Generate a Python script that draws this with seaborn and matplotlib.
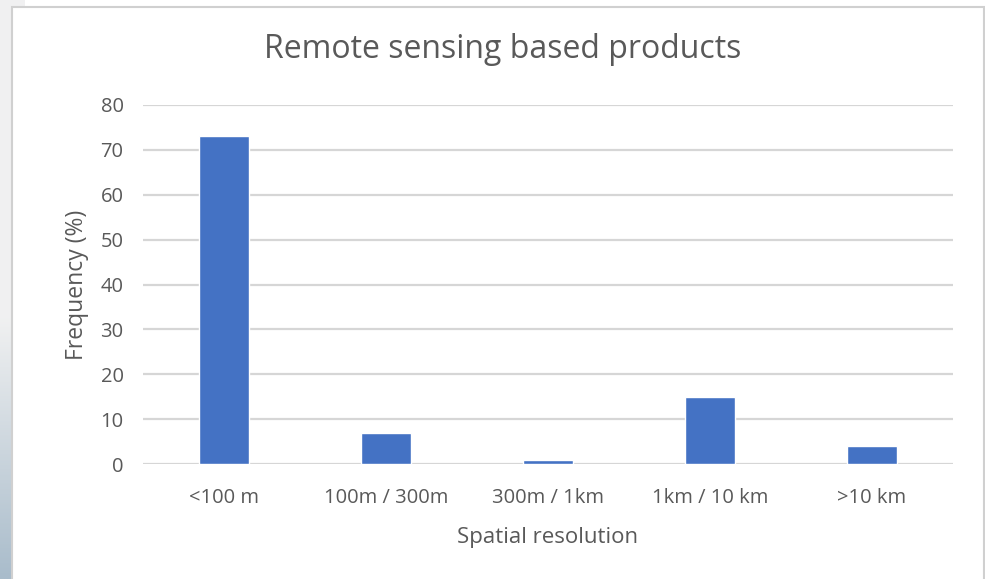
import numpy as np
import pandas as pd
import matplotlib
matplotlib.use("Agg")
import matplotlib.pyplot as plt
import seaborn as sns
from matplotlib.patches import Rectangle

# Data
categories = ["<100 m", "100m / 300m", "300m / 1km", "1km / 10 km", ">10 km"]
frequency = [73.0, 6.8, 0.8, 15.0, 3.9]

df = pd.DataFrame({"resolution": categories, "freq": frequency})

sns.set_theme(style="white")
plt.rcParams["font.family"] = ["Open Sans", "DejaVu Sans"]

text_grey = "#595959"
bar_blue = "#4472c4"

fig = plt.figure(figsize=(9.85, 5.79), dpi=100)

# faint bluish background strip on the left edge (slide behind the chart)
bg = fig.add_axes([0, 0, 0.025, 1], zorder=-2)
grad = np.clip((np.linspace(0, 1, 300) - 0.55) / 0.45, 0, 1).reshape(-1, 1)
bg.imshow(grad, aspect="auto", cmap=sns.light_palette("#a9bccb", as_cmap=True),
          extent=[0, 1, 0, 1], origin="upper", vmin=0, vmax=1)
bg.axis("off")

# chart panel border
panel = Rectangle((12 / 985, -0.01), 972 / 985, 1 - 7 / 579 + 0.01,
                  transform=fig.transFigure, facecolor="white",
                  edgecolor="#d0d0d0", linewidth=1.5, zorder=-1)
fig.patches.append(panel)

ax = fig.add_axes([143 / 985, 1 - 464 / 579, 810 / 985, 359 / 579])
ax.set_facecolor("none")
sns.barplot(data=df, x="resolution", y="freq", color=bar_blue, width=0.31,
            saturation=1, ax=ax, zorder=3)

ax.set_ylim(0, 80)
ax.set_yticks(range(0, 81, 10))
ax.set_xlim(-0.5, len(categories) - 0.5)
ax.yaxis.grid(True, color="#d6d6d6", linewidth=1.6, zorder=0)
ax.set_axisbelow(True)
for s in ax.spines.values():
    s.set_visible(False)

ax.tick_params(axis="both", length=0, labelsize=14.5, labelcolor=text_grey)
ax.tick_params(axis="y", pad=14)
ax.tick_params(axis="x", pad=17)

ax.set_xlabel("Spatial resolution", fontsize=16, color=text_grey, labelpad=14)
ax.set_ylabel("Frequency (%)", fontsize=16.5, color=text_grey, labelpad=8)
fig.text(503 / 985, 1 - 50 / 579, "Remote sensing based products", ha="center",
         va="center", fontsize=23, color=text_grey)

fig.savefig("out.png", dpi=100)
